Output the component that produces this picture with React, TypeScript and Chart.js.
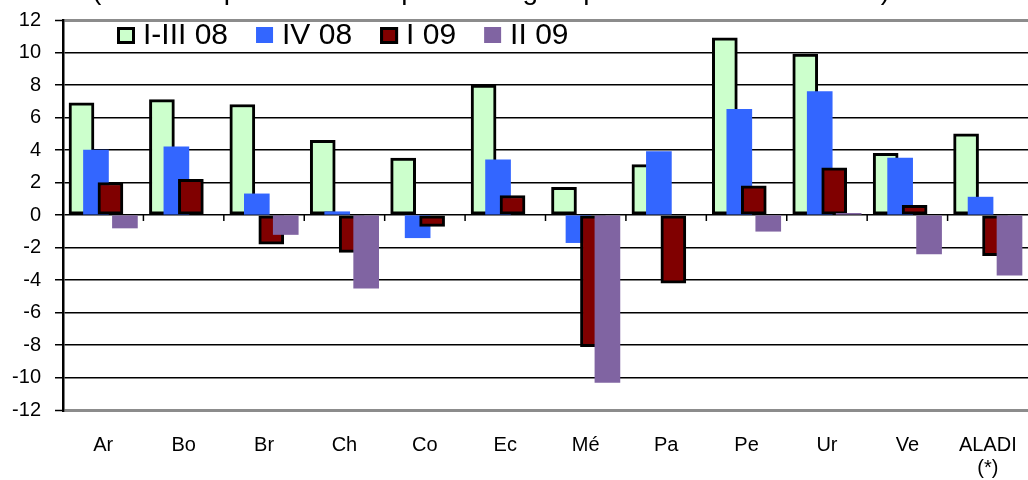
import React, { useEffect, useRef } from 'react';
import { Chart, registerables } from 'chart.js';

Chart.register(...registerables);

const FONT = '"Liberation Sans", Arial, Helvetica, sans-serif';

const titleText = '(Variación porcentual respecto de igual período del año anterior)';

const categories: (string | string[])[] = ['Ar', 'Bo', 'Br', 'Ch', 'Co', 'Ec', 'Mé', 'Pa', 'Pe', 'Ur', 'Ve', ['ALADI', '(*)']];
const seriesLabels = ['I-III 08', 'IV 08', 'I 09', 'II 09'];

const q1to3_08: (number | null)[] = [6.9, 7.1, 6.8, 4.6, 3.5, 8.0, 1.7, 3.1, 10.9, 9.9, 3.8, 5.0];
const q4_08: (number | null)[] = [4.0, 4.2, 1.3, 0.2, -1.4, 3.4, -1.7, 3.9, 6.5, 7.6, 3.5, 1.1];
const q1_09: (number | null)[] = [2.0, 2.2, -1.8, -2.3, -0.7, 1.2, -8.1, -4.2, 1.8, 2.9, 0.6, -2.5];
const q2_09: (number | null)[] = [-0.8, null, -1.2, -4.5, null, null, -10.3, null, -1.0, 0.1, -2.4, -3.7];

const yMin = -12;
const yMax = 12;
const yStep = 2;

const series = [q1to3_08, q4_08, q1_09, q2_09];
const barOffsets = [-0.27, -0.09, 0.09, 0.27];
const styles = [
  { bg: '#CCFFCC', border: '#000000', bw: 3 },
  { bg: '#3366FF', border: '#3366FF', bw: 0 },
  { bg: '#800000', border: '#000000', bw: 3 },
  { bg: '#8064A2', border: '#8064A2', bw: 0 },
];

const extras = {
  id: 'extras',
  afterDatasetsDraw(chart: any) {
    const ctx = chart.ctx;
    const xs = chart.scales.x;
    const ys = chart.scales.y;
    const area = chart.chartArea;
    const y0 = ys.getPixelForValue(0);
    ctx.save();
    ctx.strokeStyle = '#000';
    ctx.lineWidth = 1.5;
    for (let i = 0; i < categories.length - 1; i++) {
      const b = (xs.getPixelForValue(i) + xs.getPixelForValue(i + 1)) / 2;
      ctx.beginPath();
      ctx.moveTo(b, y0);
      ctx.lineTo(b, y0 + 6);
      ctx.stroke();
    }
    ctx.font = `30px ${FONT}`;
    ctx.textBaseline = 'middle';
    ctx.textAlign = 'left';
    let x = area.left + 54;
    const cy = area.top + 15;
    seriesLabels.forEach((label, s) => {
      const st = styles[s];
      if (st.bw > 0) {
        ctx.fillStyle = st.bg;
        ctx.fillRect(x, cy - 8, 18, 17);
        ctx.strokeStyle = '#000';
        ctx.lineWidth = 3;
        ctx.strokeRect(x + 1.5, cy - 6.5, 15, 14);
      } else {
        ctx.fillStyle = st.bg;
        ctx.fillRect(x, cy - 8, 17, 16);
      }
      x += 18 + 8;
      ctx.fillStyle = '#000';
      ctx.fillText(label, x, cy + 1);
      x += ctx.measureText(label).width + 28;
    });
    ctx.restore();
  },
  afterDraw(chart: any) {
    const ctx = chart.ctx;
    ctx.save();
    ctx.font = `28px ${FONT}`;
    ctx.fillStyle = '#000';
    ctx.textBaseline = 'alphabetic';
    ctx.textAlign = 'left';
    ctx.fillText(titleText, 92, -1.5);
    ctx.restore();
  },
};

export default function App() {
  const ref = useRef<HTMLCanvasElement>(null);

  useEffect(() => {
    if (!ref.current) return;
    const datasets = series.map((vals, s) => ({
      label: seriesLabels[s],
      data: vals
        .map((v, i) => (v == null ? null : { x: i + barOffsets[s], y: v }))
        .filter((d) => d !== null),
      backgroundColor: styles[s].bg,
      borderColor: styles[s].border,
      borderWidth: styles[s].bw,
      borderSkipped: false,
      grouped: false,
      barThickness: 25,
      xAxisID: 'xb',
      yAxisID: 'y',
      order: 4 - s,
    }));

    const chart = new Chart(ref.current, {
      type: 'bar',
      data: { labels: categories as any, datasets: datasets as any },
      options: {
        responsive: false,
        animation: false,
        events: [],
        layout: { autoPadding: false, padding: { left: 12, right: -1, top: 20, bottom: 0 } },
        plugins: { legend: { display: false }, tooltip: { enabled: false }, title: { display: false } },
        scales: {
          x: {
            type: 'category',
            position: 'bottom',
            offset: true,
            grid: { display: false, drawTicks: false },
            border: { display: false },
            ticks: {
              color: '#000',
              font: { family: FONT, size: 20, lineHeight: 1.15 },
              padding: 24,
              autoSkip: false,
              maxRotation: 0,
            },
            afterFit: (s: any) => {
              s.height = 70;
              s.paddingLeft = 0;
              s.paddingRight = 0;
              s.paddingTop = 0;
              s.paddingBottom = 0;
            },
          },
          xb: {
            type: 'linear',
            display: false,
            min: -0.5,
            max: 11.5,
            offset: false,
          },
          y: {
            type: 'linear',
            min: yMin,
            max: yMax,
            ticks: {
              stepSize: yStep,
              color: '#000',
              font: { family: FONT, size: 20 },
              padding: 14,
            },
            grid: {
              color: (c: any) => (c.tick && Math.abs(c.tick.value) === 12 ? '#8c8c8c' : '#000000'),
              lineWidth: (c: any) => (c.tick && Math.abs(c.tick.value) === 12 ? 3 : 1.5),
              tickColor: '#000',
              tickLength: 8,
              tickWidth: 1.5,
            },
            border: { display: true, color: '#000', width: 2.5 },
            afterFit: (s: any) => {
              s.width = 51;
              s.paddingLeft = 0;
              s.paddingRight = 0;
              s.paddingTop = 0;
              s.paddingBottom = 0;
            },
          },
        } as any,
      },
      plugins: [extras],
    });
    return () => chart.destroy();
  }, []);

  return (
    <div style={{ position: 'absolute', left: 0, top: 0, width: 1028, height: 480, background: '#fff' }}>
      <canvas ref={ref} width={1028} height={480} style={{ display: 'block' }} />
    </div>
  );
}
